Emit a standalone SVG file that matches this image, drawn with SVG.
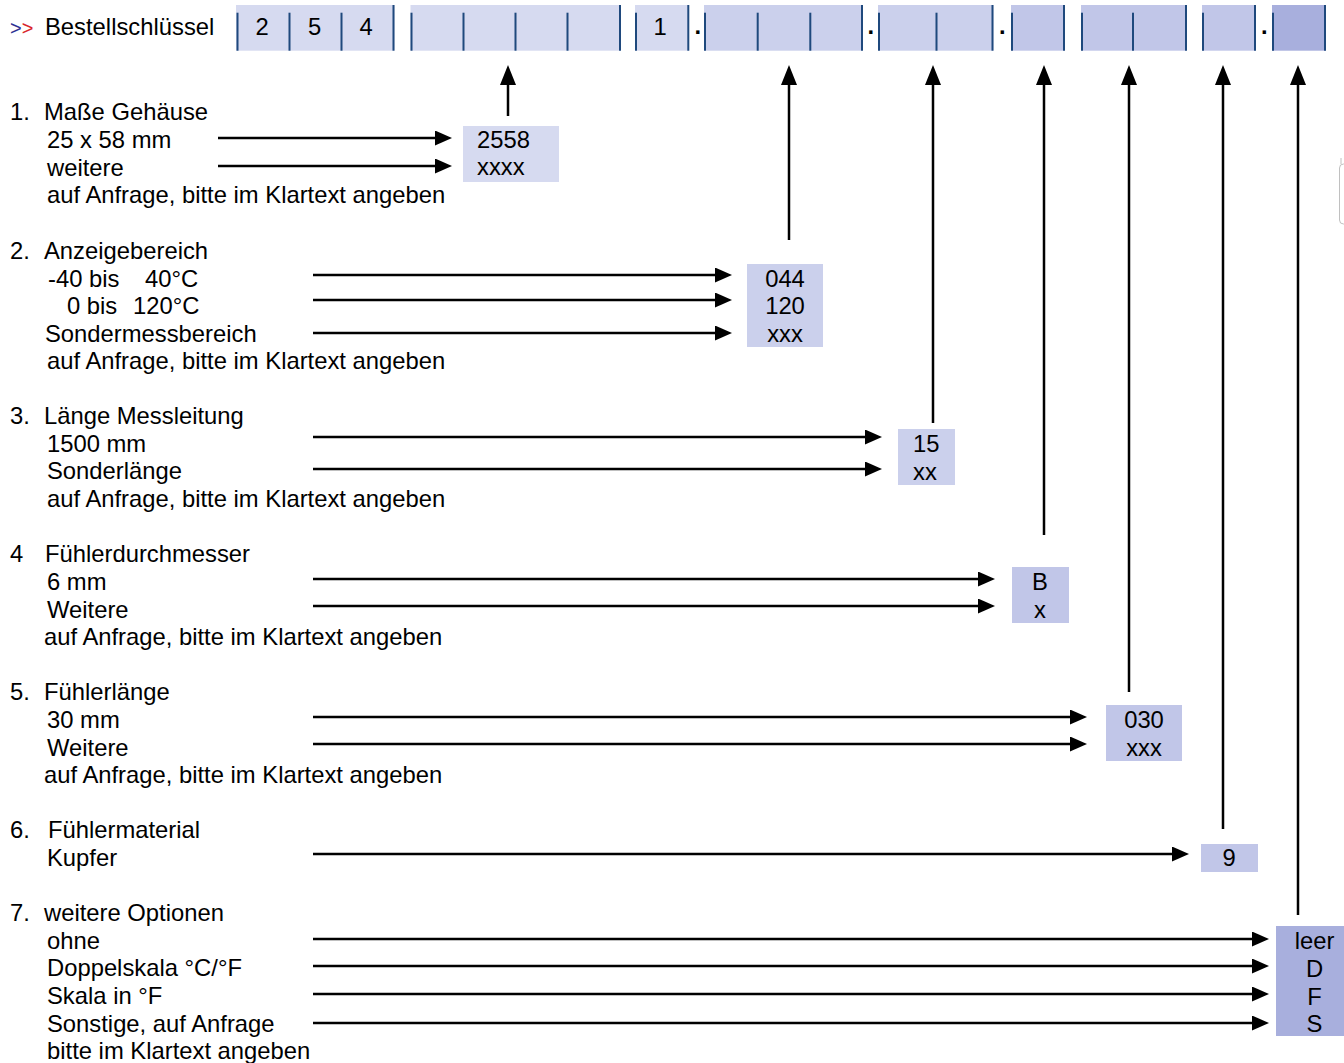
<svg xmlns="http://www.w3.org/2000/svg" width="1344" height="1063" viewBox="0 0 1344 1063">
<style>
text{font-family:"Liberation Sans",Arial,sans-serif;font-size:23.8px;fill:#000}
.c{text-anchor:middle}
.f1{fill:#d6daf0}.f2{fill:#cbd0ec}.f3{fill:#c1c6e8}.f4{fill:#a8afdd}
.bl{fill:#1f497d}
.ln{stroke:#000;stroke-width:2.5;fill:none}
.h{marker-end:url(#ah)}.v{marker-end:url(#av)}
</style>
<defs>
<marker id="ah" markerUnits="userSpaceOnUse" markerWidth="17" markerHeight="15" refX="7" refY="7.5" orient="auto" viewBox="0 0 17 15"><path d="M0,0 L17,7.5 L0,15 z" fill="#000"/></marker>
<marker id="av" markerUnits="userSpaceOnUse" markerWidth="20" markerHeight="16" refX="9" refY="8" orient="auto" viewBox="0 0 20 16"><path d="M0,0 L20,8 L0,16 z" fill="#000"/></marker>
</defs>
<rect width="1344" height="1063" fill="#fff"/>

<g id="header">
<text x="10" y="35" style="font-size:20px"><tspan fill="#2e3192">&gt;</tspan><tspan fill="#d9262b">&gt;</tspan></text>
<text x="45" y="35">Bestellschlüssel</text>
<rect class="f1" x="236" y="5" width="158.5" height="45.7"/>
<rect class="bl" x="236.5" y="12.7" width="2" height="38"/>
<rect class="bl" x="288.5" y="12.7" width="2" height="38"/>
<rect class="bl" x="340.5" y="12.7" width="2" height="38"/>
<rect class="bl" x="392.5" y="5" width="2" height="45.7"/>
<text class="c" x="262" y="35">2</text>
<text class="c" x="314.5" y="35">5</text>
<text class="c" x="366" y="35">4</text>
<rect class="f1" x="410.5" y="5" width="210.5" height="45.7"/>
<rect class="bl" x="410.5" y="12.7" width="2" height="38"/>
<rect class="bl" x="462.5" y="12.7" width="2" height="38"/>
<rect class="bl" x="514.5" y="12.7" width="2" height="38"/>
<rect class="bl" x="566.5" y="12.7" width="2" height="38"/>
<rect class="bl" x="619" y="5" width="2" height="45.7"/>
<rect class="f1" x="635" y="5" width="54" height="45.7"/>
<rect class="bl" x="635" y="12.7" width="2" height="38"/>
<rect class="bl" x="687.3" y="5" width="2" height="45.7"/>
<text class="c" x="660" y="35">1</text>
<text x="694.5" y="34" style="font-weight:bold">.</text>
<rect class="f2" x="704" y="5" width="158.7" height="45.7"/>
<rect class="bl" x="704" y="12.7" width="2" height="38"/>
<rect class="bl" x="756.7" y="12.7" width="2" height="38"/>
<rect class="bl" x="809.3" y="12.7" width="2" height="38"/>
<rect class="bl" x="861" y="5" width="2" height="45.7"/>
<text x="867.5" y="34" style="font-weight:bold">.</text>
<rect class="f2" x="878" y="5" width="115.3" height="45.7"/>
<rect class="bl" x="878" y="12.7" width="2" height="38"/>
<rect class="bl" x="935.5" y="12.7" width="2" height="38"/>
<rect class="bl" x="991.5" y="5" width="2" height="45.7"/>
<text x="999" y="34" style="font-weight:bold">.</text>
<rect class="f3" x="1011" y="5" width="54" height="45.7"/>
<rect class="bl" x="1011" y="12.7" width="2" height="38"/>
<rect class="bl" x="1063" y="5" width="2" height="45.7"/>
<rect class="f3" x="1081" y="5" width="106" height="45.7"/>
<rect class="bl" x="1081" y="12.7" width="2" height="38"/>
<rect class="bl" x="1132" y="12.7" width="2" height="38"/>
<rect class="bl" x="1185" y="5" width="2" height="45.7"/>
<rect class="f3" x="1202" y="5" width="54" height="45.7"/>
<rect class="bl" x="1202" y="12.7" width="2" height="38"/>
<rect class="bl" x="1254" y="5" width="2" height="45.7"/>
<text x="1261" y="34" style="font-weight:bold">.</text>
<rect class="f4" x="1272" y="5" width="54" height="45.7"/>
<rect class="bl" x="1272" y="12.7" width="2" height="38"/>
<rect class="bl" x="1324" y="5" width="2" height="45.7"/>
</g>

<g id="sec1">
<text x="10" y="120">1.</text><text x="44" y="120">Maße Gehäuse</text>
<text x="47" y="148">25 x 58 mm</text>
<text x="47" y="175.5">weitere</text>
<text x="47" y="203">auf Anfrage, bitte im Klartext angeben</text>
</g>
<g id="sec2">
<text x="10" y="259">2.</text><text x="44" y="259">Anzeigebereich</text>
<text x="48" y="286.5">-40 bis</text><text x="145" y="286.5">40°C</text>
<text x="67" y="314">0 bis</text><text x="133" y="314">120°C</text>
<text x="45" y="341.5">Sondermessbereich</text>
<text x="47" y="369">auf Anfrage, bitte im Klartext angeben</text>
</g>
<g id="sec3">
<text x="10" y="424">3.</text><text x="44" y="424">Länge Messleitung</text>
<text x="47" y="452">1500 mm</text>
<text x="47" y="479">Sonderlänge</text>
<text x="47" y="507">auf Anfrage, bitte im Klartext angeben</text>
</g>
<g id="sec4">
<text x="10" y="562">4</text><text x="45" y="562">Fühlerdurchmesser</text>
<text x="47" y="590">6 mm</text>
<text x="47" y="617.5">Weitere</text>
<text x="44" y="645">auf Anfrage, bitte im Klartext angeben</text>
</g>
<g id="sec5">
<text x="10" y="700">5.</text><text x="44" y="700">Fühlerlänge</text>
<text x="47" y="728">30 mm</text>
<text x="47" y="755.5">Weitere</text>
<text x="44" y="783">auf Anfrage, bitte im Klartext angeben</text>
</g>
<g id="sec6">
<text x="10" y="838">6.</text><text x="48" y="838">Fühlermaterial</text>
<text x="47" y="866">Kupfer</text>
</g>
<g id="sec7">
<text x="10" y="921">7.</text><text x="44" y="921">weitere Optionen</text>
<text x="47" y="949">ohne</text>
<text x="47" y="976">Doppelskala °C/°F</text>
<text x="47" y="1004">Skala in °F</text>
<text x="47" y="1032">Sonstige, auf Anfrage</text>
<text x="47" y="1059">bitte im Klartext angeben</text>
</g>

<g id="node-gehaeuse">
<rect class="f1" x="463" y="126" width="96" height="56"/>
<text x="477" y="147.5">2558</text>
<text x="477" y="175">xxxx</text>
</g>
<g id="node-anzeige">
<rect class="f2" x="747" y="264" width="76" height="83"/>
<text class="c" x="785" y="286.5">044</text>
<text class="c" x="785" y="314">120</text>
<text class="c" x="785" y="341.5">xxx</text>
</g>
<g id="node-leitung">
<rect class="f2" x="898" y="429" width="57" height="56"/>
<text x="913" y="452">15</text>
<text x="913" y="479.5">xx</text>
</g>
<g id="node-durchmesser">
<rect class="f3" x="1012" y="567" width="57" height="56"/>
<text class="c" x="1040" y="590">B</text>
<text class="c" x="1040" y="617.5">x</text>
</g>
<g id="node-laenge">
<rect class="f3" x="1106" y="705" width="76" height="56"/>
<text class="c" x="1144" y="728">030</text>
<text class="c" x="1144" y="755.5">xxx</text>
</g>
<g id="node-material">
<rect class="f3" x="1201" y="844" width="57" height="28"/>
<text class="c" x="1229" y="866">9</text>
</g>
<g id="node-optionen">
<rect class="f4" x="1276" y="926" width="68" height="110"/>
<text class="c" x="1314.5" y="949">leer</text>
<text class="c" x="1314.5" y="977">D</text>
<text class="c" x="1314.5" y="1005">F</text>
<text class="c" x="1314.5" y="1032">S</text>
</g>

<g id="connectors" class="ln">
<line class="h" x1="218" y1="138" x2="442" y2="138"/>
<line class="h" x1="218" y1="166" x2="442" y2="166"/>
<line class="h" x1="313" y1="275" x2="722" y2="275"/>
<line class="h" x1="313" y1="300" x2="722" y2="300"/>
<line class="h" x1="313" y1="333" x2="722" y2="333"/>
<line class="h" x1="313" y1="437" x2="872" y2="437"/>
<line class="h" x1="313" y1="469" x2="872" y2="469"/>
<line class="h" x1="313" y1="579" x2="985" y2="579"/>
<line class="h" x1="313" y1="606" x2="985" y2="606"/>
<line class="h" x1="313" y1="717" x2="1077" y2="717"/>
<line class="h" x1="313" y1="744" x2="1077" y2="744"/>
<line class="h" x1="313" y1="854" x2="1179" y2="854"/>
<line class="h" x1="313" y1="939" x2="1259" y2="939"/>
<line class="h" x1="313" y1="966" x2="1259" y2="966"/>
<line class="h" x1="313" y1="994" x2="1259" y2="994"/>
<line class="h" x1="313" y1="1023" x2="1259" y2="1023"/>
<line class="v" x1="508" y1="116" x2="508" y2="76"/>
<line class="v" x1="789" y1="240" x2="789" y2="76"/>
<line class="v" x1="933" y1="423" x2="933" y2="76"/>
<line class="v" x1="1044" y1="535" x2="1044" y2="76"/>
<line class="v" x1="1129" y1="692" x2="1129" y2="76"/>
<line class="v" x1="1223" y1="829" x2="1223" y2="76"/>
<line class="v" x1="1298" y1="915" x2="1298" y2="76"/>
</g>

<g id="edge-mark">
<path d="M1341,158 V164" stroke="#c0c0c0" stroke-width="1" fill="none"/>
<rect x="1339.5" y="164" width="20" height="60" rx="4" fill="#fff" stroke="#c0c0c0" stroke-width="1"/>
</g>
</svg>
